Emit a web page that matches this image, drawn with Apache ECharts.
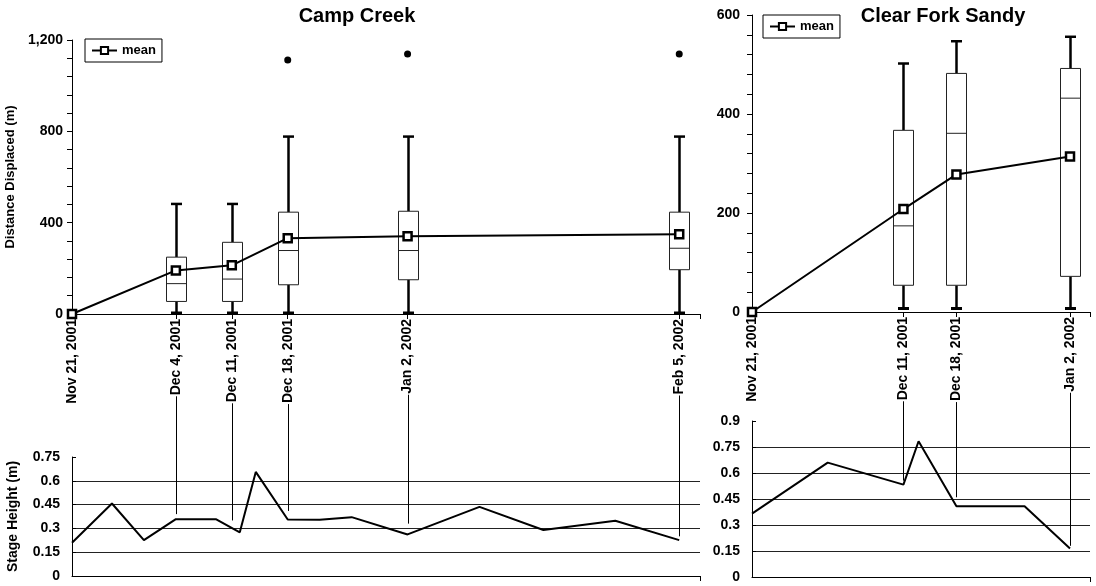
<!DOCTYPE html>
<html>
<head>
<meta charset="utf-8">
<script src="https://cdn.jsdelivr.net/npm/echarts@6/dist/echarts.min.js"></script>
<style>
html,body{margin:0;padding:0;background:#fff;}
#c{width:1096px;height:586px;}
</style>
</head>
<body>
<div id="c"></div>
<script>
// ---------- Camp Creek ----------
const camMeanDates = ['2001-11-21','2001-12-04','2001-12-11','2001-12-18','2002-01-02','2002-02-05'];
const camMean      = [0, 191, 213, 332, 340, 349];
const camBoxDates  = ['2001-12-04','2001-12-11','2001-12-18','2002-01-02','2002-02-05'];
const camLow  = [0, 0, 0, 0, 0];
const camQ1   = [55, 55, 128, 150, 194];
const camMed  = [133, 153, 278, 278, 288];
const camQ3   = [249, 314, 446, 450, 446];
const camHigh = [482, 482, 777, 777, 777];
const camOutDates = ['2001-12-18','2002-01-02','2002-02-05'];
const camOut      = [1112, 1139, 1139];
const camStageDates = ['2001-11-21','2001-11-26','2001-11-30','2001-12-04','2001-12-09','2001-12-12','2001-12-14','2001-12-18','2001-12-22','2001-12-26','2002-01-02','2002-01-11','2002-01-19','2002-01-28','2002-02-05'];
const camStage      = [0.21, 0.457, 0.226, 0.358, 0.358, 0.275, 0.656, 0.356, 0.354, 0.371, 0.262, 0.436, 0.29, 0.348, 0.226];
const camLinkDates = ['2001-12-04','2001-12-11','2001-12-18','2002-01-02','2002-02-05'];
const camLinkEnd   = [0.39, 0.35, 0.41, 0.33, 0.25];
const camTickDates = ['2001-11-21','2001-12-04','2001-12-11','2001-12-18','2002-01-02','2002-02-05'];

// ---------- Clear Fork Sandy ----------
const cfsMeanDates = ['2001-11-21','2001-12-11','2001-12-18','2002-01-02'];
const cfsMean      = [0, 208, 278, 314];
const cfsBoxDates  = ['2001-12-11','2001-12-18','2002-01-02'];
const cfsLow  = [5, 5, 5];
const cfsQ1   = [54, 54, 72];
const cfsMed  = [174, 361, 432];
const cfsQ3   = [367, 482, 492];
const cfsHigh = [502, 547, 556];
const cfsStageDates = ['2001-11-21','2001-12-01','2001-12-11','2001-12-13','2001-12-18','2001-12-27','2002-01-02'];
const cfsStage      = [0.366, 0.66, 0.533, 0.783, 0.408, 0.408, 0.164];
const cfsLinkDates = ['2001-12-11','2001-12-18','2002-01-02'];
const cfsLinkEnd   = [0.556, 0.46, 0.18];
const cfsTickDates = ['2001-11-21','2001-12-11','2001-12-18','2002-01-02'];

// ---------- helpers ----------
const T = s => Date.UTC(+s.slice(0,4), +s.slice(5,7)-1, +s.slice(8,10));
const DAY = 86400000;
const MON = ['Jan','Feb','Mar','Apr','May','Jun','Jul','Aug','Sep','Oct','Nov','Dec'];
const fmtDate = v => { const d = new Date(v); return MON[d.getUTCMonth()] + ' ' + d.getUTCDate() + ', ' + d.getUTCFullYear(); };
const FONT = '"Liberation Sans", Arial, Helvetica, sans-serif';
const LBL = 14, LBL_MARGIN = 5;
const ctx = document.createElement('canvas').getContext('2d');
ctx.font = 'bold ' + LBL + 'px ' + FONT;
const measure = t => ctx.measureText(t).width;

// layout
const G0 = {left:72, top:40, width:628, height:274};
const G1 = {left:752, top:15, width:338, height:297};
const G2 = {left:72, top:457, width:628, height:119};
const G3 = {left:752, top:421, width:338, height:156};

const camMin = T('2001-11-21'), camMax = camMin + 78.6*DAY;
const cfsMin = T('2001-11-21'), cfsMax = cfsMin + 44.64*DAY;

const zip = (a, b) => a.map((d, i) => [T(d), b[i]]);
const boxData = (d, lo, q1, md, q3, hi) => d.map((x, i) => [T(x), lo[i], q1[i], md[i], q3[i], hi[i]]);

function renderBox(params, api) {
  const x = api.value(0);
  const lo = api.coord([x, api.value(1)]);
  const q1 = api.coord([x, api.value(2)]);
  const md = api.coord([x, api.value(3)]);
  const q3 = api.coord([x, api.value(4)]);
  const hi = api.coord([x, api.value(5)]);
  const cx = Math.round(lo[0]) + 0.5;
  const bw = 20, cw = 11;
  return {type:'group', children:[
    {type:'line', shape:{x1:cx, y1:q3[1], x2:cx, y2:hi[1]}, style:{stroke:'#000', lineWidth:2.5}},
    {type:'line', shape:{x1:cx, y1:q1[1], x2:cx, y2:lo[1]}, style:{stroke:'#000', lineWidth:2.5}},
    {type:'line', shape:{x1:cx-cw/2, y1:hi[1], x2:cx+cw/2, y2:hi[1]}, style:{stroke:'#000', lineWidth:2.5}},
    {type:'line', shape:{x1:cx-cw/2, y1:lo[1]-1, x2:cx+cw/2, y2:lo[1]-1}, style:{stroke:'#000', lineWidth:3}},
    {type:'rect', shape:{x:cx-bw/2, y:q3[1], width:bw, height:q1[1]-q3[1]}, style:{fill:'#fff', stroke:'#222', lineWidth:1}},
    {type:'line', shape:{x1:cx-bw/2, y1:md[1], x2:cx+bw/2, y2:md[1]}, style:{stroke:'#222', lineWidth:1}}
  ]};
}
function linkRenderer(axisPx) {
  return function(params, api) {
    const t = api.value(0);
    const p = api.coord([t, api.value(1)]);
    const y0 = axisPx + LBL_MARGIN + measure(fmtDate(t)) + 1;
    const x = Math.round(p[0]) + 0.5;
    return {type:'line', shape:{x1:x, y1:y0, x2:x, y2:p[1]}, style:{stroke:'#000', lineWidth:1}};
  };
}

function xTop(gi, min, max, ticks) {
  const tv = ticks.map(T);
  return {
    type:'value', gridIndex:gi, min:min, max:max,
    axisLine:{show:true, lineStyle:{color:'#000', width:1}},
    axisTick:{show:true, customValues: tv.concat([max]), length:5, lineStyle:{color:'#000'}},
    axisLabel:{show:true, customValues: tv, rotate:90, margin:LBL_MARGIN, color:'#000',
      fontFamily:FONT, fontWeight:'bold', fontSize:LBL, formatter: v => fmtDate(v)},
    splitLine:{show:false}
  };
}
function xBottom(gi, min, max) {
  return {
    type:'value', gridIndex:gi, min:min, max:max,
    axisLine:{show:true, lineStyle:{color:'#000', width:1}},
    axisTick:{show:true, customValues:[max], length:5, lineStyle:{color:'#000'}},
    axisLabel:{show:false}, splitLine:{show:false}
  };
}
function yTop(gi, max, interval, margin, name) {
  return {
    type:'value', gridIndex:gi, min:0, max:max, interval:interval,
    name:name || '', nameLocation:'middle', nameGap:47,
    nameTextStyle:{fontFamily:FONT, fontWeight:'bold', fontSize:13, color:'#000'},
    axisLine:{show:true, lineStyle:{color:'#000', width:1}},
    axisTick:{show:true, length:5, lineStyle:{color:'#000'}},
    minorTick:{show:true, splitNumber:5, length:5, lineStyle:{color:'#000'}},
    axisLabel:{margin:margin, color:'#000', fontFamily:FONT, fontWeight:'bold', fontSize:LBL,
      formatter: v => Number(v).toLocaleString('en-US')},
    splitLine:{show:false}
  };
}
function yBottom(gi, max, margin, name) {
  return {
    type:'value', gridIndex:gi, min:0, max:max, interval:0.15,
    name:name || '', nameLocation:'middle', nameGap:52,
    nameTextStyle:{fontFamily:FONT, fontWeight:'bold', fontSize:14, color:'#000'},
    axisLine:{show:true, lineStyle:{color:'#000', width:1}},
    axisTick:{show:true, inside:true, length:4, lineStyle:{color:'#000'}},
    axisLabel:{margin:margin, color:'#000', fontFamily:FONT, fontWeight:'bold', fontSize:LBL,
      formatter: v => String(+Number(v).toFixed(2))},
    splitLine:{show:true, showMinLine:false, showMaxLine:false, lineStyle:{color:'#222', width:1}}
  };
}

const meanStyle = {
  type:'line', symbol:'rect', symbolSize:8, showAllSymbol:true, z:5,
  itemStyle:{color:'#fff', borderColor:'#000', borderWidth:2.5},
  lineStyle:{color:'#000', width:2}
};
const legendBase = {
  padding:[5,6], itemWidth:25, itemHeight:9, itemGap:0,
  borderColor:'#000', borderWidth:1, backgroundColor:'#fff', borderRadius:0,
  data:['mean'], selectedMode:false,
  textStyle:{fontFamily:FONT, fontWeight:'bold', fontSize:13, color:'#000'}
};

const chart = echarts.init(document.getElementById('c'), null, {renderer:'canvas'});
chart.setOption({
  animation:false,
  backgroundColor:'#fff',
  title:[
    {text:'Camp Creek', left:357, top:6, textAlign:'center', padding:0,
     textStyle:{fontFamily:FONT, fontWeight:'bold', fontSize:20, color:'#000'}},
    {text:'Clear Fork Sandy', left:943, top:6, textAlign:'center', padding:0,
     textStyle:{fontFamily:FONT, fontWeight:'bold', fontSize:20, color:'#000'}}
  ],
  legend:[
    Object.assign({left:85, top:39}, legendBase),
    Object.assign({left:763, top:15}, legendBase)
  ],
  grid:[G0, G1, G2, G3].map(g => Object.assign({containLabel:false, outerBoundsMode:'none'}, g)),
  xAxis:[
    xTop(0, camMin, camMax, camTickDates),
    xTop(1, cfsMin, cfsMax, cfsTickDates),
    xBottom(2, camMin, camMax),
    xBottom(3, cfsMin, cfsMax)
  ],
  yAxis:[
    yTop(0, 1200, 400, 9, 'Distance Displaced (m)'),
    yTop(1, 600, 200, 12),
    yBottom(2, 0.75, 12, 'Stage Height (m)'),
    yBottom(3, 0.9, 12)
  ],
  series:[
    {type:'custom', name:'camBox', xAxisIndex:0, yAxisIndex:0, renderItem:renderBox, z:2,
     encode:{x:0, y:[1,2,3,4,5]}, data:boxData(camBoxDates, camLow, camQ1, camMed, camQ3, camHigh)},
    Object.assign({name:'mean', xAxisIndex:0, yAxisIndex:0, data:zip(camMeanDates, camMean)}, meanStyle),
    {type:'scatter', name:'camOut', xAxisIndex:0, yAxisIndex:0, symbol:'circle', symbolSize:7,
     itemStyle:{color:'#000', opacity:1}, data:zip(camOutDates, camOut)},

    {type:'custom', name:'cfsBox', xAxisIndex:1, yAxisIndex:1, renderItem:renderBox, z:2,
     encode:{x:0, y:[1,2,3,4,5]}, data:boxData(cfsBoxDates, cfsLow, cfsQ1, cfsMed, cfsQ3, cfsHigh)},
    Object.assign({name:'mean', xAxisIndex:1, yAxisIndex:1, data:zip(cfsMeanDates, cfsMean)}, meanStyle),

    {type:'line', name:'camStage', xAxisIndex:2, yAxisIndex:2, symbol:'none',
     lineStyle:{color:'#000', width:2}, data:zip(camStageDates, camStage), z:4},
    {type:'line', name:'cfsStage', xAxisIndex:3, yAxisIndex:3, symbol:'none',
     lineStyle:{color:'#000', width:2}, data:zip(cfsStageDates, cfsStage), z:4},

    {type:'custom', name:'camLink', xAxisIndex:2, yAxisIndex:2, clip:false, z:3,
     renderItem:linkRenderer(G0.top + G0.height), encode:{x:0, y:1}, data:zip(camLinkDates, camLinkEnd)},
    {type:'custom', name:'cfsLink', xAxisIndex:3, yAxisIndex:3, clip:false, z:3,
     renderItem:linkRenderer(G1.top + G1.height), encode:{x:0, y:1}, data:zip(cfsLinkDates, cfsLinkEnd)}
  ]
});
</script>
</body>
</html>
